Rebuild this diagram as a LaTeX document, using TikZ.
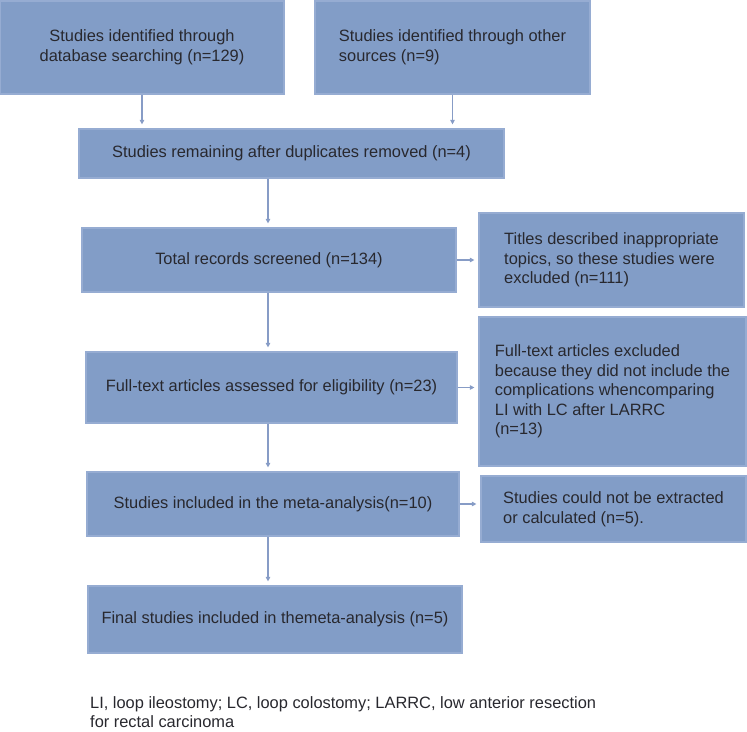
\documentclass[tikz,border=0pt]{standalone}
\usepackage{fontspec}
\setmainfont{Liberation Sans}
\usepackage{tikz}
\usetikzlibrary{arrows.meta}
\usetikzlibrary{calc}
\definecolor{boxfill}{RGB}{130,157,199}
\definecolor{boxline}{RGB}{150,172,210}
\definecolor{arrowcol}{RGB}{135,156,198}
\definecolor{textcol}{RGB}{40,40,46}

\begin{document}
\begin{tikzpicture}[
        x=1pt, y=-1pt, % una unidad por pixel, eje y hacia abajo
        font=\fontsize{16.4}{19.5}\selectfont, % fuente de las cajas
        % --- Estilos personalizados ---
        flowbox/.style={rectangle, fill=boxfill, draw=boxline, line width=1.2pt,
            text=textcol, inner sep=0pt, align=center},
        sidebox/.style={flowbox, align=left},
        flowarrow/.style={-{Triangle[length=4.5pt, width=4.5pt]}, 
        line width=1.1pt, arrowcol, shorten >=4pt},
    ]
        \useasboundingbox (0,0) rectangle (747,731);

        % --- 1. Fuentes de estudios ---
        \node[flowbox, minimum width=284pt, minimum height=93pt] (db) at (142,47.5)
            {Studies identified through\\database searching (n=129)};
        \node[sidebox, minimum width=275pt, minimum height=93pt] (other) at (452.5,47.5)
            {Studies identified through other\\sources (n=9)};

        % --- 2. Columna principal ---
        \node[flowbox, minimum width=425pt, minimum height=49pt] (dup) at (291.5,153.5)
            {Studies remaining after duplicates removed (n=4)};
        \node[flowbox, minimum width=374pt, minimum height=64pt] (total) at (269,260)
            {Total records screened (n=134)};
        \node[flowbox, minimum width=371pt, minimum height=71pt] (full) at (271.5,387.5)
            {Full-text articles assessed for eligibility (n=23)};
        \node[flowbox, minimum width=372pt, minimum height=64pt] (incl) at (273,504)
            {Studies included in the meta-analysis(n=10)};
        \node[flowbox, minimum width=374pt, minimum height=67pt] (final) at (275,619.5)
            {Final studies included in themeta-analysis (n=5)};

        % --- 3. Columna de exclusiones ---
        \node[sidebox, minimum width=265pt, minimum height=94pt] (titles) at (611.5,260)
            {Titles described inappropriate\\topics, so these studies were\\excluded (n=111)};
        \node[sidebox, minimum width=267pt, minimum height=149pt] (excl) at (612.5,391.5)
            {Full-text articles excluded\\because they did not include the\\complications whencomparing\\LI with LC after LARRC\\(n=13)};
        \node[sidebox, minimum width=265pt, minimum height=66pt] (could) at (613.5,509)
            {Studies could not be extracted\\or calculated (n=5).};

        % --- 4. Flechas ---
        \coordinate (axis) at (268,0); % eje vertical de la columna principal
        \draw[flowarrow] (db.south) -- (db.south |- dup.north);
        \draw[flowarrow] (other.south) -- (other.south |- dup.north);
        \foreach \a/\b in {dup/total, total/full, full/incl, incl/final} {
            \draw[flowarrow] (\a.south -| axis) -- (\b.north -| axis);
        }
        \foreach \a/\b in {total/titles, full/excl, incl/could} {
            \draw[flowarrow] (\a.east) -- (\a.east -| \b.west);
        }

        % --- 5. Nota al pie ---
        \node[text=textcol, anchor=west, align=left, inner sep=0pt] (note) at (90,712)
            {LI, loop ileostomy; LC, loop colostomy; LARRC, low anterior resection\\for rectal carcinoma};

    \end{tikzpicture}
\end{document}
